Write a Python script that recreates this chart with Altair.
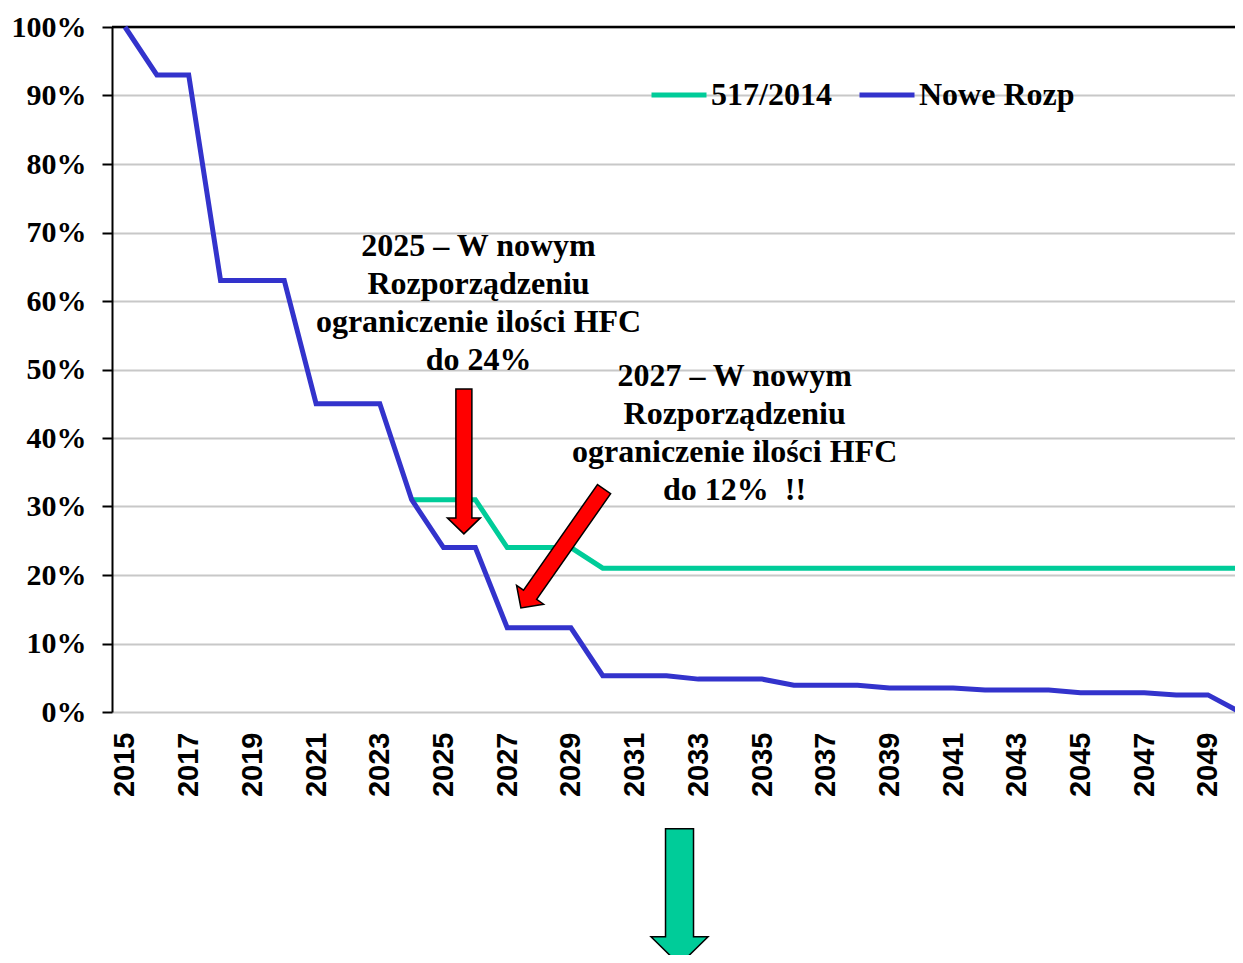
import altair as alt
import pandas as pd

# ---- data ----
series_names = ["517/2014", "Nowe Rozp"]

years_nowe = list(range(2015, 2051))
values_nowe = [100, 93, 93, 63, 63, 63, 45, 45, 45, 31, 24, 24, 12.3, 12.3, 12.3,
               5.3, 5.3, 5.3, 4.8, 4.8, 4.8, 3.9, 3.9, 3.9, 3.5, 3.5, 3.5,
               3.2, 3.2, 3.2, 2.8, 2.8, 2.8, 2.5, 2.5, 0]

years_517 = list(range(2024, 2051))
values_517 = [31, 31, 31, 24, 24, 24, 21, 21, 21, 21, 21, 21, 21, 21, 21, 21,
              21, 21, 21, 21, 21, 21, 21, 21, 21, 21, 21]

x_tick_labels = list(range(2015, 2050, 2))
y_tick_values = list(range(0, 101, 10))

note_2025 = ["2025 – W nowym", "Rozporządzeniu", "ograniczenie ilości HFC", "do 24%"]
note_2027 = ["2027 – W nowym", "Rozporządzeniu", "ograniczenie ilości HFC", "do 12%\u00a0 !!"]

df = pd.DataFrame({
    "year": years_517 + years_nowe,
    "value": values_517 + values_nowe,
    "series": [series_names[0]] * len(years_517) + [series_names[1]] * len(years_nowe),
})

TEAL = "#00CC99"
BLUE = "#3333CC"
RED = "#FF0000"

x_scale = alt.Scale(domain=[2014.592, 2049.85], nice=False, zero=False)
y_scale = alt.Scale(domain=[0, 100], nice=False)

lines = alt.Chart(df).mark_line(strokeWidth=5).encode(
    x=alt.X("year:Q", scale=x_scale,
            axis=alt.Axis(values=x_tick_labels, format="d", labelAngle=-90,
                          labelFont="Liberation Sans", labelFontWeight="bold",
                          labelFontSize=29, labelColor="black", ticks=False,
                          tickSize=0, domain=False, grid=False, labelPadding=20,
                          labelOverlap=False, title=None)),
    y=alt.Y("value:Q", scale=y_scale,
            axis=alt.Axis(values=y_tick_values, labelExpr="datum.value + '%'",
                          labelFont="Liberation Serif", labelFontWeight="bold",
                          labelFontSize=30, labelColor="black", tickColor="black",
                          tickWidth=2, tickSize=10, domainColor="black",
                          domainWidth=2, gridColor="#c8c8c8", gridWidth=2,
                          labelPadding=16, title=None)),
    color=alt.Color("series:N",
                    scale=alt.Scale(domain=series_names, range=[TEAL, BLUE]),
                    legend=alt.Legend(orient="none", legendX=537, legendY=38,
                                      direction="horizontal", title=None,
                                      symbolType="stroke", symbolSize=3025,
                                      symbolStrokeWidth=5,
                                      labelFont="Liberation Serif",
                                      labelFontWeight="bold", labelFontSize=32,
                                      labelColor="black", columnPadding=17,
                                      labelOffset=2)),
    order="year:Q",
)

top_rule = alt.Chart(pd.DataFrame({"v": [100]})).mark_rule(
    color="black", strokeWidth=2.5).encode(y=alt.Y("v:Q", scale=y_scale))

text_style = dict(font="Liberation Serif", fontWeight="bold", fontSize=32,
                  lineHeight=38, align="center", baseline="alphabetic",
                  color="black")

text1 = alt.Chart(pd.DataFrame({"a": [0]})).mark_text(**text_style).encode(
    x=alt.datum(2026.1), y=alt.datum(66.6), text=alt.value(note_2025))
text2 = alt.Chart(pd.DataFrame({"a": [0]})).mark_text(**text_style).encode(
    x=alt.datum(2034.14), y=alt.datum(47.6), text=alt.value(note_2027))

red_arrow_path = "M -8 -145 L 8 -145 L 8 -16 L 16.5 -16 L 0 0 L -16.5 -16 L -8 -16 Z"
green_arrow_path = "M -14 -136 L 14 -136 L 14 -28 L 28.5 -28 L 0 0 L -28.5 -28 L -14 -28 Z"

arrow1 = alt.Chart(pd.DataFrame({"a": [0]})).mark_point(
    shape=red_arrow_path, size=4, filled=True, fill=RED, stroke="black",
    strokeWidth=1.5, opacity=1).encode(x=alt.datum(2025.64), y=alt.datum(26.0))
arrow2 = alt.Chart(pd.DataFrame({"a": [0]})).mark_point(
    shape=red_arrow_path, size=4, filled=True, fill=RED, stroke="black",
    strokeWidth=1.5, opacity=1, angle=35).encode(x=alt.datum(2027.43), y=alt.datum(15.2))
arrow3 = alt.Chart(pd.DataFrame({"a": [0]})).mark_point(
    shape=green_arrow_path, size=4, filled=True, fill=TEAL, stroke="black",
    strokeWidth=1.5, opacity=1).encode(x=alt.datum(2032.41), y=alt.datum(-36.9))

chart = alt.layer(top_rule, lines, text1, text2, arrow1, arrow2, arrow3).properties(
    width=1123, height=685,
    autosize=alt.AutoSizeParams(type="none"),
    padding={"left": 104, "top": 19, "right": 0, "bottom": 243},
).configure_view(stroke=None)

chart.save("out.html", embed_options={"renderer": "svg", "actions": False})
